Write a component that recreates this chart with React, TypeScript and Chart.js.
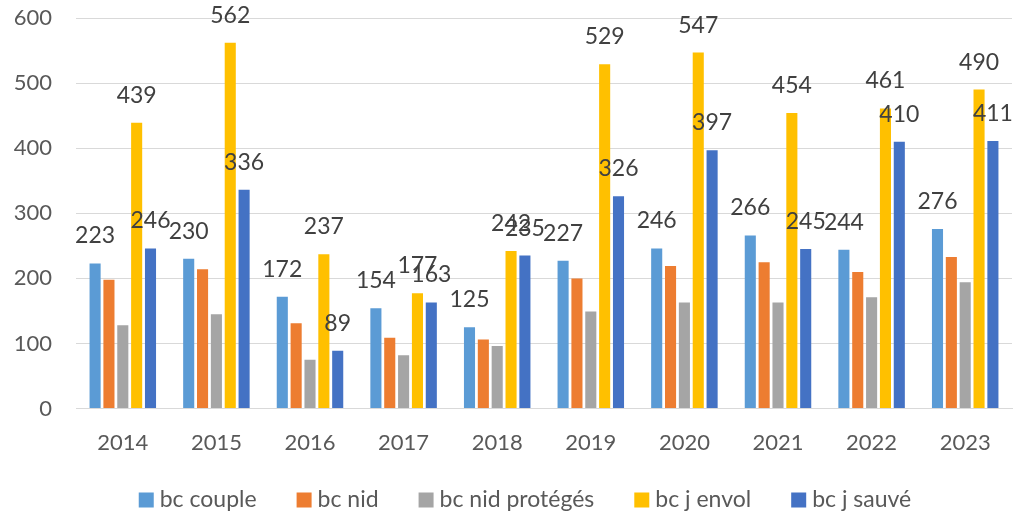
import React, { useEffect, useRef } from "react";
import { Chart, registerables } from "chart.js";

Chart.register(...registerables);

const years = ["2014", "2015", "2016", "2017", "2018", "2019", "2020", "2021", "2022", "2023"];
const bcCouple = [223, 230, 172, 154, 125, 227, 246, 266, 244, 276];
const bcNid = [198, 214, 131, 109, 106, 200, 219, 225, 210, 233];
const bcNidProteges = [128, 145, 75, 82, 96, 149, 163, 163, 171, 194];
const bcJEnvol = [439, 562, 237, 177, 242, 529, 547, 454, 461, 490];
const bcJSauve = [246, 336, 89, 163, 235, 326, 397, 245, 410, 411];
const seriesNames = ["bc couple", "bc nid", "bc nid protégés", "bc j envol", "bc j sauvé"];
const seriesColors = ["#5B9BD5", "#ED7D31", "#A5A5A5", "#FFC000", "#4472C4"];
const labeledSeries = [0, 3, 4];

const FONT = "Lato, 'Open Sans', sans-serif";

const dataLabelPlugin = {
  id: "dataLabels",
  afterDatasetsDraw(chart: any) {
    const ctx = chart.ctx;
    ctx.save();
    ctx.font = `23px ${FONT}`;
    ctx.fillStyle = "#404040";
    ctx.textAlign = "center";
    ctx.textBaseline = "alphabetic";
    labeledSeries.forEach((di) => {
      const meta = chart.getDatasetMeta(di);
      const ds = chart.data.datasets[di];
      meta.data.forEach((bar: any, i: number) => {
        ctx.fillText(String(ds.data[i]), bar.x, bar.y - 20);
      });
    });
    ctx.restore();
  },
};

const legendPlugin = {
  id: "bottomLegend",
  afterDraw(chart: any) {
    const ctx = chart.ctx;
    ctx.save();
    ctx.font = `23px ${FONT}`;
    ctx.textBaseline = "middle";
    ctx.textAlign = "left";
    const box = 15;
    const gapBoxText = 6;
    const gapItems = 40;
    const items = chart.data.datasets.map((ds: any) => ({
      text: ds.label,
      color: ds.backgroundColor,
      w: box + gapBoxText + ctx.measureText(ds.label).width,
    }));
    const total = items.reduce((a: number, it: any) => a + it.w, 0) + gapItems * (items.length - 1);
    let x = chart.width / 2 + 15 - total / 2;
    const y = chart.height - 13;
    items.forEach((it: any) => {
      ctx.fillStyle = it.color;
      ctx.fillRect(x, y - box / 2, box, box);
      ctx.fillStyle = "#595959";
      ctx.fillText(it.text, x + box + gapBoxText, y);
      x += it.w + gapItems;
    });
    ctx.restore();
  },
};

export default function App() {
  const ref = useRef<HTMLCanvasElement>(null);
  useEffect(() => {
    if (!ref.current) return;
    const chart = new Chart(ref.current, {
      type: "bar",
      data: {
        labels: years,
        datasets: [
          { label: seriesNames[0], data: bcCouple, backgroundColor: seriesColors[0] },
          { label: seriesNames[1], data: bcNid, backgroundColor: seriesColors[1] },
          { label: seriesNames[2], data: bcNidProteges, backgroundColor: seriesColors[2] },
          { label: seriesNames[3], data: bcJEnvol, backgroundColor: seriesColors[3] },
          { label: seriesNames[4], data: bcJSauve, backgroundColor: seriesColors[4] },
        ],
      },
      options: {
        animation: false,
        responsive: false,
        maintainAspectRatio: false,
        datasets: { bar: { barPercentage: 0.8, categoryPercentage: 0.74 } },
        layout: { padding: { top: 18, right: 8, left: 0, bottom: 36 } },
        scales: {
          x: {
            grid: { display: false, drawTicks: false },
            border: { display: true, color: "#d9d9d9" },
            ticks: { color: "#595959", font: { family: FONT, size: 22 }, padding: 21 },
          },
          y: {
            min: 0,
            max: 600,
            afterFit: (s: any) => { s.width = 76; },
            grid: { color: "#d9d9d9", drawTicks: true, tickLength: 24, tickColor: "rgba(0,0,0,0)" },
            border: { display: false },
            ticks: { stepSize: 100, color: "#595959", font: { family: FONT, size: 22 }, padding: 0 },
          },
        },
        plugins: {
          legend: { display: false },
          tooltip: { enabled: false },
        },
      },
      plugins: [dataLabelPlugin, legendPlugin],
    });
    return () => chart.destroy();
  }, []);
  return (
    <div style={{ position: "fixed", left: 0, top: 0, width: 1020, height: 513, background: "#fff" }}>
      <canvas ref={ref} width={1020} height={513} />
    </div>
  );
}
